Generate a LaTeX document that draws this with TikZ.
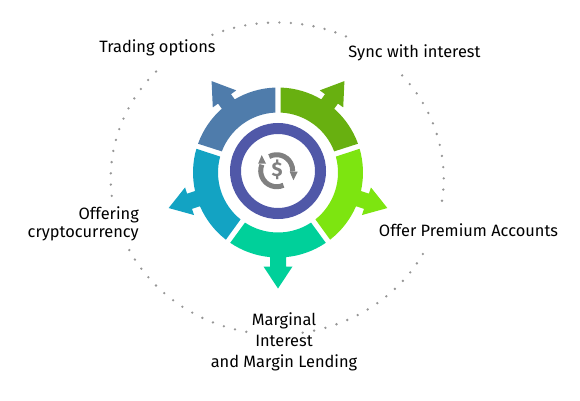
\documentclass[tikz,border=0pt]{standalone}
\usepackage{fontspec}
\setmainfont{Fira Sans}
\usepackage{xcolor}
\definecolor{segtl}{RGB}{79,124,171}
\definecolor{segtr}{RGB}{104,176,16}
\definecolor{segr}{RGB}{125,229,16}
\definecolor{segb}{RGB}{0,208,154}
\definecolor{segl}{RGB}{19,163,195}
\definecolor{ringc}{RGB}{80,88,168}
\definecolor{iconc}{RGB}{128,128,128}
\definecolor{dotc}{RGB}{150,150,150}

\begin{document}
\begin{tikzpicture}[
  x=1pt, y=1pt,
  font=\fontsize{16.4}{21}\selectfont,
  lbl/.style={inner sep=0pt, align=center, text=black},
  hubring/.style={circle, draw=ringc, line width=11pt, minimum size=85pt, inner sep=0pt},
  cyc/.style={line width=5pt, iconc},
  dotm/.style={fill=dotc}]

  \useasboundingbox (0,0) rectangle (580,-400);

  % dotted ring, broken where the labels sit
  \foreach \t in {65.6,69.54,...,113.2, 136.7,140.84,...,186.8, 207.3,211.3,...,259.6,
                  278.8,282.82,...,331.4, -8.2,-4.07,...,41.8}
    \fill[dotm] ({277.2+166.5*cos(\t)},{-178.5+156*sin(\t)}) circle (1.3);

  % five arrows round the hub
  \foreach \ang/\col/\tip/\hd in {54/segtr/113/91,-18/segr/115/93,-90/segb/116/94,198/segl/115/93,126/segtl/113/91}
    \fill[\col, shift={(278,-172.5)}, rotate=\ang]
      (-33.4:60) -- (-34.2:85) arc[start angle=-34.2, end angle=-5.4, radius=85]
      -- (\hd,-8) -- (\hd,-14.5) -- (\tip,0) -- (\hd,14.5) -- (\hd,8)
      -- (5.4:85) arc[start angle=5.4, end angle=34.2, radius=85]
      -- (33.4:60) arc[start angle=33.4, end angle=-33.4, radius=60] -- cycle;

  % hub
  \node[hubring] (hub) at (278,-171) {};
  \node[text=iconc, inner sep=0pt, font=\fontsize{20}{20}\selectfont\bfseries] (dollar) at (277,-170) {\$};
  \begin{scope}[shift={(276.7,-170.7)}]
    \draw[cyc] (118:16) arc[start angle=118, end angle=-3, radius=16];
    \fill[iconc] (13,-1) -- (21,-1) -- (16.7,-9.5) -- cycle;
    \draw[cyc] (-65:16) arc[start angle=-65, end angle=-202, radius=16];
    \fill[iconc] (-18.6,7) -- (-10.6,7) -- (-15,15.7) -- cycle;
  \end{scope}

  % labels
  \node[lbl] (trade) at (157.5,-48) {Trading options};
  \node[lbl] (sync) at (414.5,-53) {Sync with interest};
  \node[lbl] (prem) at (468.5,-230.5) {Offer Premium Accounts};
  \node[lbl, align=right, anchor=east, font=\fontsize{16.4}{18.5}\selectfont] (crypto) at (139,-224) {Offering\\cryptocurrency};
  \node[lbl] (margin) at (284,-342) {Marginal\\Interest\\and Margin Lending};
\end{tikzpicture}
\end{document}
